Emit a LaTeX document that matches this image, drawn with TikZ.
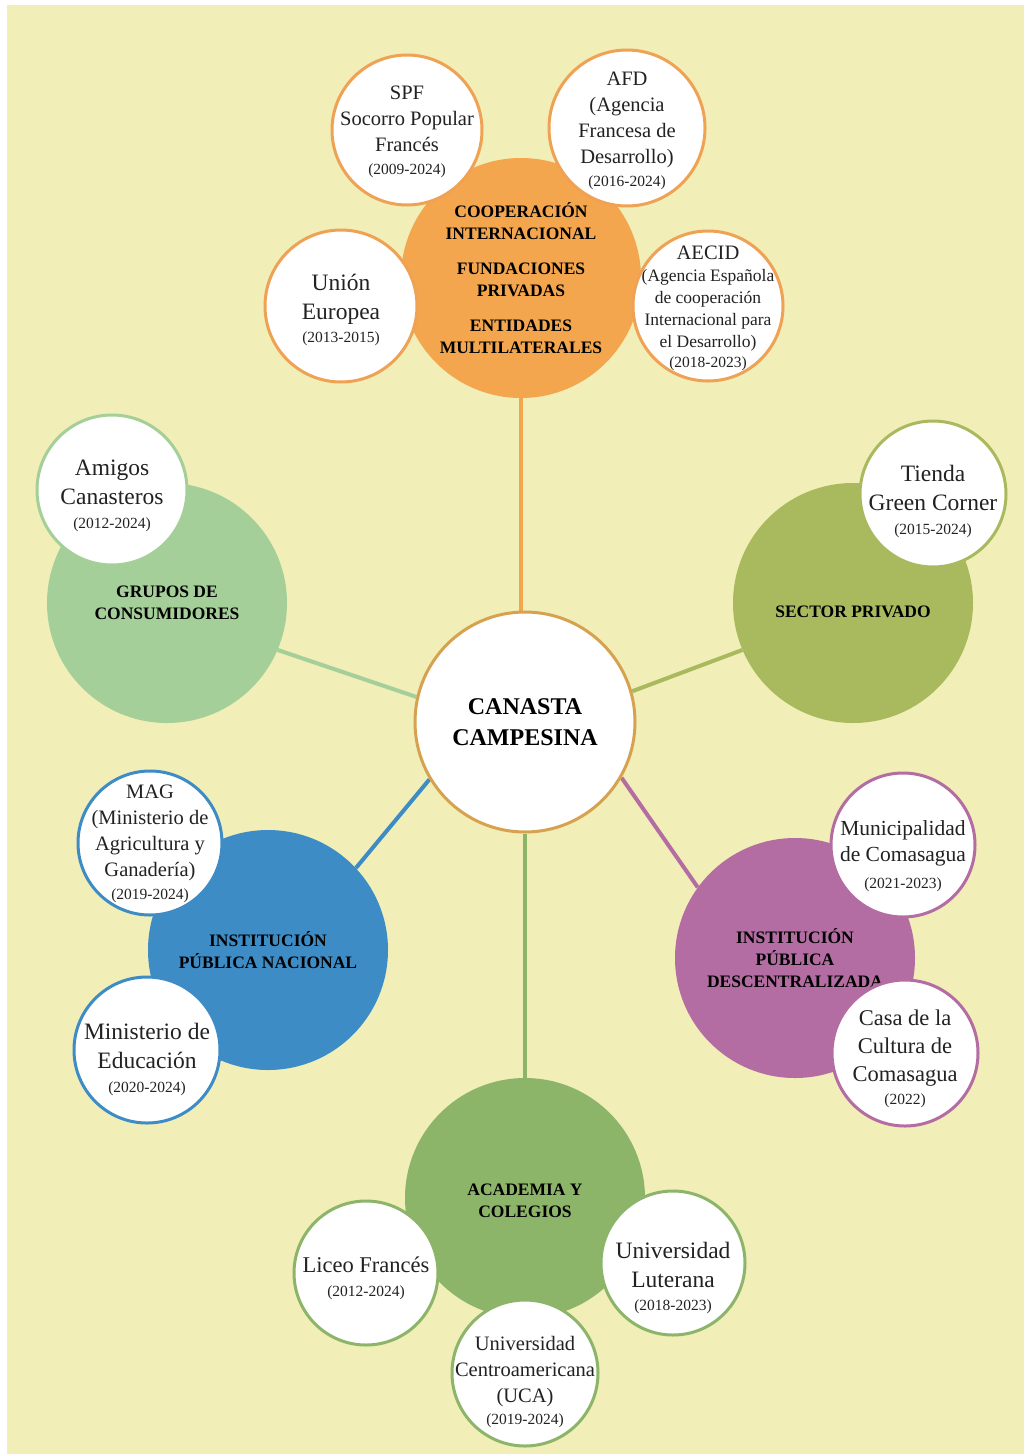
\documentclass[tikz,border=0pt]{standalone}
\usepackage{fontspec}
\setmainfont{Liberation Serif}
\definecolor{bgc}{HTML}{F1EEB8}
\definecolor{corange}{HTML}{F4A64E}
\definecolor{borange}{HTML}{F0A254}
\definecolor{clgreen}{HTML}{A5CF99}
\definecolor{colive}{HTML}{A9BA5E}
\definecolor{cblue}{HTML}{3E8CC5}
\definecolor{cpurple}{HTML}{B36DA2}
\definecolor{cagreen}{HTML}{8DB56A}
\definecolor{cgold}{HTML}{D6A250}
\definecolor{txt}{HTML}{222222}
\pgfdeclarelayer{bglayer}
\pgfsetlayers{bglayer,main}
\newcommand{\yrs}[1]{{\fontsize{15.5}{18}\selectfont #1}}
\begin{document}
\begin{tikzpicture}[x=1pt,y=-1pt,
  hub/.style={circle, minimum size=240pt, inner sep=0pt, align=center, text=black,
    font=\bfseries\fontsize{17.5}{22}\selectfont},
  sat/.style={circle, draw=#1, line width=3pt, fill=white, inner sep=0pt},
  satt/.style={inner sep=0pt, align=center, text=txt},
  conn/.style={draw=#1, line width=4pt},
  fA/.style={font=\fontsize{20.5}{26}\selectfont},
  fB/.style={font=\fontsize{23.5}{29}\selectfont},
  fC/.style={font=\fontsize{17.5}{22}\selectfont},
  fD/.style={font=\fontsize{21.5}{26}\selectfont},
  fE/.style={font=\fontsize{22.5}{28}\selectfont}
]
\useasboundingbox (0,0) rectangle (1024,1454);
\begin{pgfonlayer}{bglayer}
\fill[white] (0,0) rectangle (1024,1454);
\fill[bgc] (7,5) rectangle (1024,1454);
\end{pgfonlayer}

% hubs
\node[hub, fill=corange] (coop) at (521,278) {COOPERACIÓN\\INTERNACIONAL\\[13pt]FUNDACIONES\\PRIVADAS\\[13pt]ENTIDADES\\MULTILATERALES};
\node[hub, fill=clgreen] (cons) at (167,603) {GRUPOS DE\\CONSUMIDORES};
\node[hub, fill=colive, text depth=0pt] (priv) at (853,603) {};
\node[satt, text=black, font=\bfseries\fontsize{17.5}{22}\selectfont] (priv-t) at (853,612) {SECTOR PRIVADO};
\node[hub, fill=cblue] (ipn) at (268,950) {INSTITUCIÓN\\PÚBLICA NACIONAL};
\node[hub, fill=cpurple] (ipd) at (795,958) {INSTITUCIÓN\\PÚBLICA\\DESCENTRALIZADA};
\node[hub, fill=cagreen] (acad) at (525,1198) {};
\node[satt, text=black, font=\bfseries\fontsize{17.5}{22}\selectfont] (acad-t) at (525,1201) {ACADEMIA Y\\COLEGIOS};

% centre
\node[circle, draw=cgold, line width=3pt, fill=white, minimum size=220pt, inner sep=0pt, align=center,
  font=\bfseries\fontsize{24}{31}\selectfont] (cc) at (525,722) {CANASTA\\CAMPESINA};

% satellites (circles)
\node[sat=borange, minimum size=150pt] (spf) at (407,130) {};
\node[sat=borange, minimum size=156pt] (afd) at (627,128) {};
\node[sat=borange, minimum size=152pt] (ue) at (341,306) {};
\node[sat=borange, minimum size=150pt] (aecid) at (708,306) {};
\node[sat=clgreen, minimum size=150pt] (amigos) at (112,490) {};
\node[sat=colive, minimum size=146pt] (tienda) at (933,494) {};
\node[sat=cblue, minimum size=144pt] (mag) at (150,843) {};
\node[sat=cblue, minimum size=146pt] (medu) at (147,1050) {};
\node[sat=cpurple, minimum size=144pt] (muni) at (903,845) {};
\node[sat=cpurple, minimum size=146pt] (casa) at (905,1053) {};
\node[sat=cagreen, minimum size=144pt] (liceo) at (366,1273) {};
\node[sat=cagreen, minimum size=144pt] (ul) at (673,1263) {};
\node[sat=cagreen, minimum size=146pt] (uca) at (525,1373) {};

% satellites (texts)
\node[satt, fA] (spf-t) at (407,132) {SPF\\Socorro Popular\\Francés\\[-3pt]\yrs{(2009-2024)}};
\node[satt, fA] (afd-t) at (627,131) {AFD\\(Agencia\\Francesa de\\Desarrollo)\\[-3pt]\yrs{(2016-2024)}};
\node[satt, fB] (ue-t) at (341,310) {Unión\\Europea\\[-6pt]\yrs{(2013-2015)}};
\node[satt, fC] (aecid-t) at (708,308) {{\fontsize{20.5}{22}\selectfont AECID}\\(Agencia Española\\de cooperación\\Internacional para\\el Desarrollo)\\[-2pt]\yrs{(2018-2023)}};
\node[satt, fB] (amigos-t) at (112,496) {Amigos\\Canasteros\\[-5pt]\yrs{(2012-2024)}};
\node[satt, fB] (tienda-t) at (933,501) {Tienda\\Green Corner\\[-5pt]\yrs{(2015-2024)}};
\node[satt, fA] (mag-t) at (150,844) {MAG\\(Ministerio de\\Agricultura y\\Ganadería)\\[-3pt]\yrs{(2019-2024)}};
\node[satt, fB] (medu-t) at (147,1059) {Ministerio de\\Educación\\[-5pt]\yrs{(2020-2024)}};
\node[satt, fD] (muni-t) at (903,856) {Municipalidad\\de Comasagua\\[1pt]\yrs{(2021-2023)}};
\node[satt, fE] (casa-t) at (905,1059) {Casa de la\\Cultura de\\Comasagua\\[-5pt]\yrs{(2022)}};
\node[satt, fE] (liceo-t) at (366,1278) {Liceo Francés\\[-4pt]\yrs{(2012-2024)}};
\node[satt, fB] (ul-t) at (673,1278) {Universidad\\Luterana\\[-6pt]\yrs{(2018-2023)}};
\node[satt, fA] (uca-t) at (525,1382) {Universidad\\Centroamericana\\(UCA)\\[-4pt]\yrs{(2019-2024)}};

% connectors
\begin{pgfonlayer}{bglayer}
\draw[conn=corange] (coop.-90) -- (cc.center -| coop.-90);
\draw[conn=clgreen] (cons.-23) -- (cc.167);
\draw[conn=colive] (priv.-157) -- (cc.16);
\draw[conn=cblue] (ipn.43) -- (cc.211);
\draw[conn=cpurple] (ipd.144) -- (cc.-30);
\draw[conn=cagreen] (acad.90) -- (cc.-90);
\end{pgfonlayer}
\end{tikzpicture}
\end{document}
